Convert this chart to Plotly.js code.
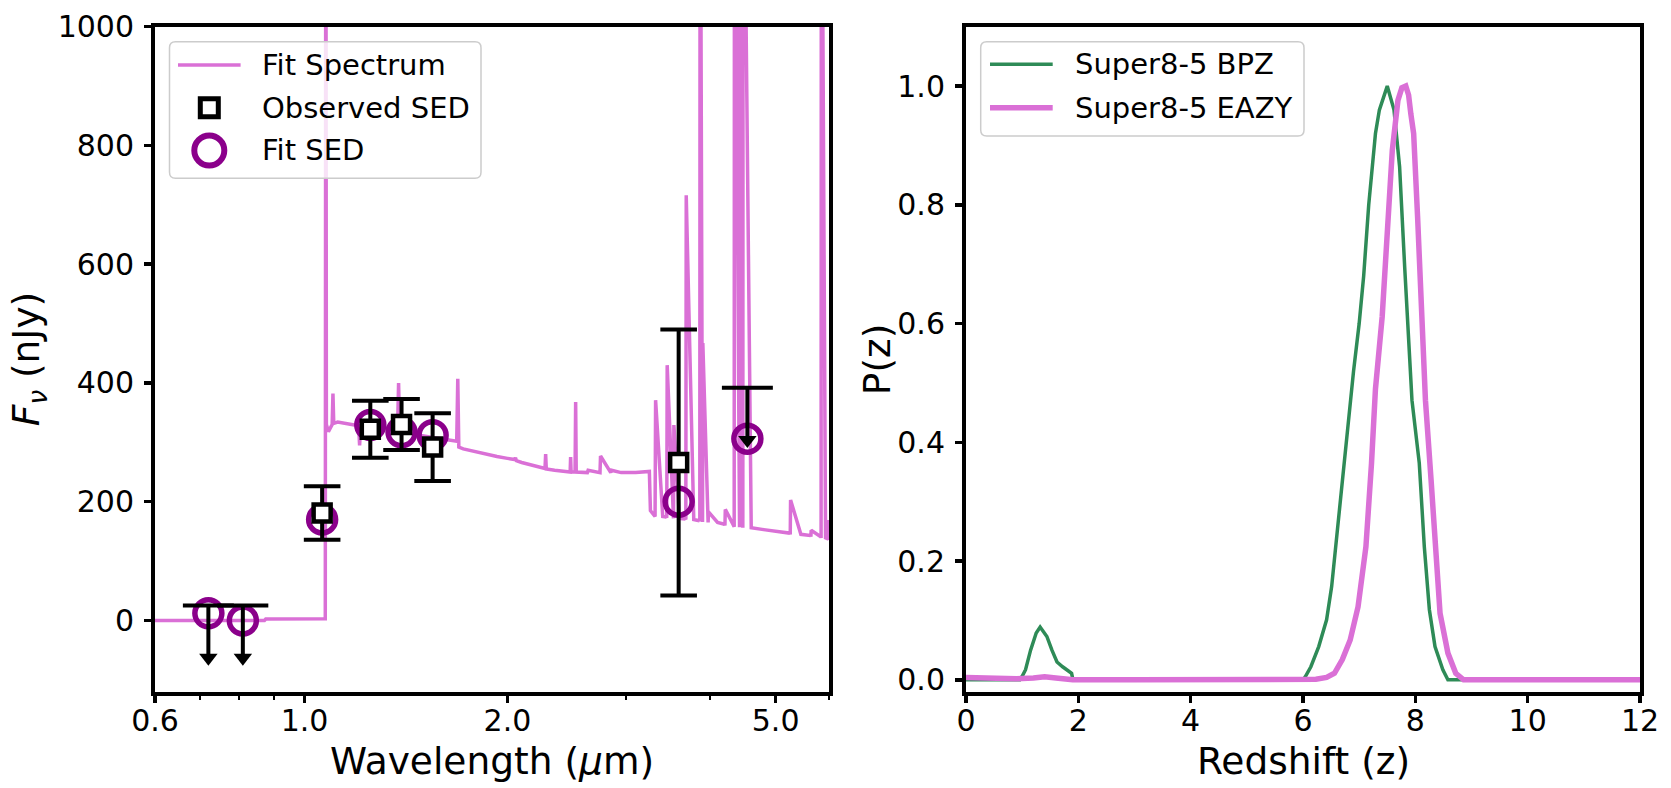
<!DOCTYPE html>
<html>
<head>
<meta charset="utf-8">
<script src="https://cdn.plot.ly/plotly-3.0.1.min.js"></script>
<style>
  html, body { margin: 0; padding: 0; background: #ffffff; }
  #chart { width: 1671px; height: 788px; }
</style>
</head>
<body>
<div id="chart"></div>
<script>
// ---------- SED panel: photometry ----------
const obsLam    = [1.062, 1.252, 1.393, 1.549, 3.59];
const obsFlux   = [181, 322, 330, 292, 266];
const obsErr    = [45, 48, 43, 57, 224];

const fitLam    = [0.72, 0.81, 1.062, 1.252, 1.393, 1.549, 3.59, 4.54];
const fitFlux   = [12, 0, 170, 329, 317, 312, 200, 306];

// 2-sigma upper limits (bands without detection)
const limLam    = [0.72, 0.81, 4.54];
const limFlux   = [25, 25, 392];

// ---------- SED panel: best-fit model spectrum ----------
const specLam = [
  0.60, 0.70, 0.80, 0.872, 0.876, 1.00, 1.0735, 1.0755, 1.0775, 1.085, 1.095, 1.099, 1.102, 1.105,
  1.12, 1.15, 1.18, 1.203, 1.207, 1.211, 1.25, 1.30, 1.35, 1.374, 1.379, 1.384, 1.42, 1.48,
  1.55, 1.62, 1.682, 1.688, 1.694, 1.72, 1.78, 1.85, 1.93, 2.00, 2.05, 2.056, 2.062, 2.10,
  2.16, 2.22, 2.274, 2.279, 2.284, 2.35, 2.43, 2.478, 2.482, 2.486, 2.52, 2.525, 2.53, 2.62,
  2.628, 2.635, 2.739, 2.744, 2.749, 2.842, 2.847, 2.852, 2.95, 3.10, 3.24, 3.248, 3.26, 3.306,
  3.312, 3.318, 3.40, 3.442, 3.447, 3.452, 3.522, 3.527, 3.532, 3.60, 3.674, 3.679, 3.684, 3.78,
  3.855, 3.859, 3.863, 3.891, 3.895, 3.899, 3.965, 3.97, 3.975, 4.10, 4.20, 4.205, 4.21, 4.336,
  4.34, 4.344, 4.416, 4.42, 4.424, 4.466, 4.47, 4.474, 4.60, 4.80, 5.00, 5.25, 5.256, 5.262,
  5.45, 5.635, 5.64, 5.645, 5.835, 5.84, 5.845, 5.93, 5.99, 5.996, 6.0
];
const specFlux = [
  0, 0.5, 0, 0, 2.5, 2.5, 3, 1500, 330, 318, 325, 330, 382, 332,
  334, 332, 330, 328, 295, 328, 328, 326, 322, 320, 400, 320, 318, 312,
  308, 305, 302, 407, 292, 289, 285, 281, 276, 273, 271, 274, 269, 266,
  262, 258, 256, 280, 255, 253, 251, 250, 275, 250, 250, 368, 250, 249,
  249, 253, 249, 249, 277, 249, 249, 253, 249, 249, 250, 251, 185, 176,
  175, 371, 175, 174, 173, 430, 173, 172, 329, 172, 171, 170, 716, 170,
  168, 167, 1500, 167, 166, 467, 166, 165, 183, 165, 162, 160, 187, 160,
  158, 1500, 158, 157, 1500, 157, 156, 1500, 156, 153, 150, 147, 145, 203,
  145, 143, 141, 152, 141, 139, 1500, 139, 137, 136, 169, 150
];

// ---------- P(z) panel ----------
const bpzZ = [0, 0.9, 0.96, 1.0, 1.06, 1.15, 1.25, 1.32, 1.44, 1.53, 1.62, 1.72, 1.80, 1.88, 1.90,
  1.95, 3.0, 6.0, 6.04, 6.14, 6.28, 6.42, 6.51, 6.61, 6.70, 6.81, 6.90, 7.00, 7.08, 7.17, 7.29, 7.36,
  7.50, 7.62, 7.72, 7.81, 7.88, 7.94, 8.07, 8.16, 8.25, 8.35, 8.49, 8.58, 8.8, 12];
const bpzP = [0, 0, 0, 0.006, 0.017, 0.05, 0.079, 0.089, 0.073, 0.05, 0.03, 0.022, 0.016, 0.011, 0.002,
  0, 0, 0, 0.005, 0.022, 0.056, 0.101, 0.157, 0.25, 0.337, 0.45, 0.52, 0.60, 0.68, 0.80, 0.92, 0.96,
  1.0, 0.96, 0.864, 0.696, 0.584, 0.471, 0.365, 0.224, 0.118, 0.056, 0.017, 0, 0, 0];

const eazyZ = [0, 0.3, 0.6, 0.9, 1.2, 1.4, 1.6, 1.9, 3.0, 6.0, 6.23, 6.42, 6.56, 6.70, 6.84, 6.98,
  7.12, 7.22, 7.29, 7.41, 7.50, 7.59, 7.69, 7.76, 7.83, 7.88, 7.92, 7.97, 8.04, 8.11, 8.18, 8.28,
  8.35, 8.44, 8.58, 8.72, 8.86, 9.5, 12];
const eazyP = [0.004, 0.003, 0.001, 0.002, 0.003, 0.005, 0.003, 0, 0, 0, 0.001, 0.004, 0.011, 0.034,
  0.067, 0.123, 0.224, 0.365, 0.49, 0.612, 0.752, 0.892, 0.976, 0.997, 1.0, 0.985, 0.953, 0.92, 0.78,
  0.612, 0.471, 0.337, 0.224, 0.112, 0.045, 0.011, 0, 0, 0];

// ---------- ticks and labels ----------
const sedTickVals  = [0.6, 1.0, 2.0, 5.0];
const sedTickText  = ['0.6', '1.0', '2.0', '5.0'];
const sedMinorVals = [0.7, 0.8, 0.9, 3, 4, 6];
const fluxTicks    = [0, 200, 400, 600, 800, 1000];
const zTicks       = [0, 2, 4, 6, 8, 10, 12];
const pTicks       = [0, 0.2, 0.4, 0.6, 0.8, 1.0];

const sedLegend = ['Fit Spectrum', 'Observed SED', 'Fit SED'];
const pzLegend  = ['Super8-5 BPZ', 'Super8-5 EAZY'];
const sedXTitle = 'Wavelength (<i>μ</i>m)';
const sedYTitle = '<i>F</i><sub><i>ν</i></sub> (nJy)';
const pzXTitle  = 'Redshift (z)';
const pzYTitle  = 'P(z)';

// ---------- styles ----------
const W = 1671, H = 788;
const ORCHID = '#da70d6', GREEN = '#2e8b57', PURPLE = '#8b008b';
const FONT = 'DejaVu Sans';
const ARROW_LEN = 88;

const traces = [];

// model spectrum
traces.push({
  x: specLam, y: specFlux, xaxis: 'x', yaxis: 'y', mode: 'lines',
  line: {color: ORCHID, width: 3.5}, hoverinfo: 'skip'
});
// fitted photometry
traces.push({
  x: fitLam, y: fitFlux, xaxis: 'x', yaxis: 'y', mode: 'markers',
  marker: {symbol: 'circle-open', size: 27, color: PURPLE, line: {width: 5.5, color: PURPLE}}
});
// upper limits: stem, cap and arrow head
traces.push({
  x: limLam, y: limFlux, xaxis: 'x', yaxis: 'y', mode: 'markers',
  marker: {symbol: 'line-ew', size: 36.4, color: 'black', line: {width: 4, color: 'black'}},
  error_y: {type: 'data', symmetric: false, array: limFlux.map(() => 0),
            arrayminus: limFlux.map(() => ARROW_LEN), width: 0, thickness: 4, color: 'black'}
});
traces.push({
  x: limLam, y: limFlux.map(v => v - ARROW_LEN), xaxis: 'x', yaxis: 'y', mode: 'markers',
  marker: {symbol: 'triangle-down', size: 16, color: 'black', line: {width: 0}}
});
// observed photometry
traces.push({
  x: obsLam, y: obsFlux, xaxis: 'x', yaxis: 'y', mode: 'markers',
  marker: {symbol: 'square', size: 17, color: 'white', line: {width: 4.5, color: 'black'}},
  error_y: {type: 'data', array: obsErr, width: 18.3, thickness: 4, color: 'black'}
});
// redshift probability distributions
traces.push({
  x: bpzZ, y: bpzP, xaxis: 'x2', yaxis: 'y2', mode: 'lines',
  line: {color: GREEN, width: 3.5}
});
traces.push({
  x: eazyZ, y: eazyP, xaxis: 'x2', yaxis: 'y2', mode: 'lines',
  line: {color: ORCHID, width: 5.5}
});

// ---------- legends and axis titles (pixel-space overlay axis pair) ----------
const shapes = [];
const annotations = [];

function roundedBox(x0, y0, x1, y1, r) {
  return 'M' + (x0 + r) + ',' + y0 + ' L' + (x1 - r) + ',' + y0 + ' Q' + x1 + ',' + y0 + ' ' + x1 + ',' + (y0 + r) +
         ' L' + x1 + ',' + (y1 - r) + ' Q' + x1 + ',' + y1 + ' ' + (x1 - r) + ',' + y1 +
         ' L' + (x0 + r) + ',' + y1 + ' Q' + x0 + ',' + y1 + ' ' + x0 + ',' + (y1 - r) +
         ' L' + x0 + ',' + (y0 + r) + ' Q' + x0 + ',' + y0 + ' ' + (x0 + r) + ',' + y0 + ' Z';
}
function legendFrame(box) {
  shapes.push({
    type: 'path', xref: 'x3', yref: 'y3', layer: 'below',
    path: roundedBox(box.x0, box.y0, box.x1, box.y1, 6),
    fillcolor: 'rgba(255,255,255,0.8)', line: {color: '#cccccc', width: 1.5}
  });
}
function label(x, y, text, size, opts) {
  annotations.push(Object.assign({
    xref: 'x3', yref: 'y3', x: x, y: y, text: text, showarrow: false,
    xanchor: 'left', yanchor: 'middle', font: {family: FONT, size: size, color: 'black'}
  }, opts || {}));
}

// left legend
const legL = {x0: 169.5, y0: 41.7, x1: 481, y1: 178.3, row0: 65, step: 42.7, sx0: 178, sx1: 240.6, tx: 260};
legendFrame(legL);
shapes.push({type: 'line', xref: 'x3', yref: 'y3', x0: legL.sx0, x1: legL.sx1, y0: legL.row0, y1: legL.row0,
             line: {color: ORCHID, width: 3.5}});
traces.push({
  x: [(legL.sx0 + legL.sx1) / 2], y: [legL.row0 + legL.step], xaxis: 'x3', yaxis: 'y3', mode: 'markers',
  marker: {symbol: 'square', size: 18, color: 'white', line: {width: 5, color: 'black'}}, hoverinfo: 'skip'
});
traces.push({
  x: [(legL.sx0 + legL.sx1) / 2], y: [legL.row0 + 2 * legL.step], xaxis: 'x3', yaxis: 'y3', mode: 'markers',
  marker: {symbol: 'circle-open', size: 30, color: PURPLE, line: {width: 6, color: PURPLE}}, hoverinfo: 'skip'
});
sedLegend.forEach((t, i) => label(legL.tx, legL.row0 + i * legL.step, t, 29));

// right legend
const legR = {x0: 980.7, y0: 41.7, x1: 1304, y1: 136, row0: 64.3, step: 43.4, sx0: 990, sx1: 1052.7, tx: 1073};
legendFrame(legR);
[GREEN, ORCHID].forEach((c, i) => {
  shapes.push({type: 'line', xref: 'x3', yref: 'y3', x0: legR.sx0, x1: legR.sx1,
               y0: legR.row0 + i * legR.step, y1: legR.row0 + i * legR.step,
               line: {color: c, width: i === 0 ? 3.5 : 5.5}});
});
pzLegend.forEach((t, i) => label(legR.tx, legR.row0 + i * legR.step, t, 29));

// axis titles
const plotL = {x0: 155, x1: 829}, plotR = {x0: 966, x1: 1640}, plotY = {y0: 26.7, y1: 691.7};
const TITLE_SIZE = 37.5, XTITLE_Y = 761;
label((plotL.x0 + plotL.x1) / 2, XTITLE_Y, sedXTitle, TITLE_SIZE, {xanchor: 'center'});
label((plotR.x0 + plotR.x1) / 2, XTITLE_Y, pzXTitle, TITLE_SIZE, {xanchor: 'center'});
label(plotL.x0 - 127, (plotY.y0 + plotY.y1) / 2, sedYTitle, TITLE_SIZE, {xanchor: 'center', textangle: -90});
label(plotR.x0 - 89, (plotY.y0 + plotY.y1) / 2, pzYTitle, TITLE_SIZE, {xanchor: 'center', textangle: -90});

// ---------- axes ----------
const frame = {
  showline: true, mirror: true, linewidth: 4, linecolor: 'black',
  ticks: 'outside', ticklen: 7, tickwidth: 3.5, tickcolor: 'black',
  showgrid: false, zeroline: false, fixedrange: true,
  tickfont: {family: FONT, size: 30, color: 'black'}
};
const xFrame = Object.assign({}, frame, {ticklabelstandoff: -8});
const yFrame = Object.assign({}, frame, {ticklabelstandoff: 4});

const layout = {
  width: W, height: H,
  margin: {l: 0, r: 0, t: 0, b: 0},
  paper_bgcolor: '#ffffff', plot_bgcolor: 'rgba(0,0,0,0)',
  font: {family: FONT, size: 30, color: 'black'},
  showlegend: false,
  xaxis: Object.assign({}, xFrame, {
    type: 'log', domain: [plotL.x0 / W, plotL.x1 / W], anchor: 'y',
    range: [Math.log10(0.6), Math.log10(6.0)],
    tickmode: 'array', tickvals: sedTickVals, ticktext: sedTickText,
    minor: {tickmode: 'array', tickvals: sedMinorVals, ticks: 'outside', ticklen: 4, tickwidth: 2,
            tickcolor: 'black', showgrid: false}
  }),
  yaxis: Object.assign({}, yFrame, {
    domain: [1 - plotY.y1 / H, 1 - plotY.y0 / H], anchor: 'x',
    range: [-120, 1000], tickmode: 'array', tickvals: fluxTicks
  }),
  xaxis2: Object.assign({}, xFrame, {
    domain: [plotR.x0 / W, plotR.x1 / W], anchor: 'y2',
    range: [0, 12], tickmode: 'array', tickvals: zTicks
  }),
  yaxis2: Object.assign({}, yFrame, {
    domain: [1 - plotY.y1 / H, 1 - plotY.y0 / H], anchor: 'x2',
    range: [-0.02, 1.1], tickmode: 'array', tickvals: pTicks, tickformat: '.1f'
  }),
  xaxis3: {domain: [0, 1], range: [0, W], visible: false, fixedrange: true, anchor: 'y3'},
  yaxis3: {domain: [0, 1], range: [H, 0], visible: false, fixedrange: true, anchor: 'x3'},
  shapes: shapes,
  annotations: annotations
};

Plotly.newPlot('chart', traces, layout, {displayModeBar: false, staticPlot: true});
</script>
</body>
</html>
